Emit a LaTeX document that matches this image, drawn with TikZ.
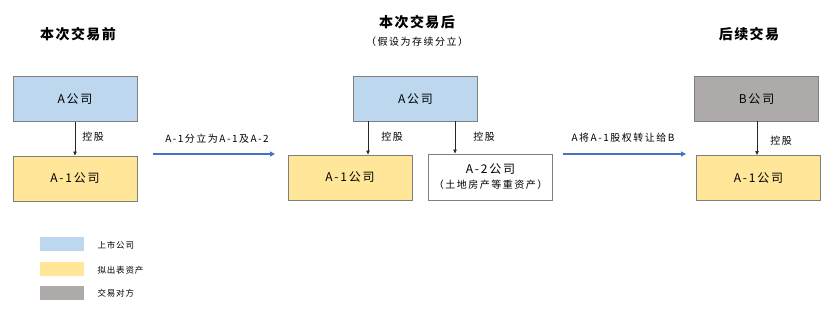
\documentclass[tikz,border=0pt]{standalone}
\usepackage{fontspec}
\setmainfont{Noto Sans CJK SC}
\usetikzlibrary{arrows.meta}
\definecolor{lblue}{HTML}{BDD7EE}
\definecolor{lyellow}{HTML}{FFE699}
\definecolor{lgray}{HTML}{AEAAAA}
\definecolor{bord}{HTML}{7F7F7F}
\definecolor{arrblue}{HTML}{4472C4}
\newcommand{\spc}[1]{\addfontfeature{LetterSpace=#1}}
\begin{document}
\begin{tikzpicture}[x=1pt,y=-1pt,
  box/.style={draw=bord,line width=1pt,minimum width=124pt,minimum height=45pt,inner sep=0pt,font=\fontsize{12}{14}\selectfont\spc{15},align=center},
  ctrl/.style={draw=black!85,line width=0.6pt,-{Triangle[length=4pt,width=3.5pt]}},
  lbl/.style={font=\fontsize{10}{12}\selectfont\spc{15}},
  big/.style={draw=arrblue,line width=1.4pt,-{Triangle[length=5pt,width=5pt]}},
  ttl/.style={font=\fontsize{14}{16}\selectfont\bfseries\spc{10}},
  leg/.style={fill=#1,draw=none,minimum width=44pt,minimum height=14pt,inner sep=0pt},
  legt/.style={font=\fontsize{8.5}{10}\selectfont\spc{10},anchor=west}]
\useasboundingbox (0,0) rectangle (827,311);
% titles
\node[ttl] (t1) at (78,34) {本次交易前};
\node[ttl] (t2) at (417,22) {本次交易后};
\node[font=\fontsize{10}{12}\selectfont\spc{15}] (t2s) at (417,42) {（假设为存续分立）};
\node[ttl] (t3) at (749,34) {后续交易};
% left
\node[box,fill=lblue] (a1) at (75,99) {A公司};
\node[box,fill=lyellow] (a11) at (75,178.5) {A-1公司};
\draw[ctrl] (a1.south) -- (a11.north);
\node[lbl] at (93,137) {控股};
% middle
\node[box,fill=lblue] (a2) at (415.5,99) {A公司};
\node[box,fill=lyellow] (a12) at (350,177.5) {A-1公司};
\node[box,fill=white,minimum height=46pt] (a22) at (490.5,177) {A-2公司\\[1pt]{\fontsize{10}{12}\selectfont\spc{15}（土地房产等重资产）}};
\coordinate (s1) at (368,121);
\coordinate (s2) at (455,121);
\draw[ctrl] (s1) -- (s1 |- a12.north);
\draw[ctrl] (s2) -- (s2 |- a22.north);
\node[lbl] at (392,137) {控股};
\node[lbl] at (484,137) {控股};
% right
\node[box,fill=lgray] (b) at (756.5,99) {B公司};
\node[box,fill=lyellow] (a13) at (758.5,178) {A-1公司};
\coordinate (s3) at (757,121);
\draw[ctrl] (s3) -- (s3 |- a13.north);
\node[lbl] at (781,141) {控股};
% big arrows
\coordinate (p1) at (153,154);
\coordinate (p2) at (275,154);
\draw[big] (p1) -- (p2);
\node[lbl] (l1) at (217,139) {A-1分立为A-1及A-2};
\coordinate (q1) at (563,154);
\coordinate (q2) at (686,154);
\draw[big] (q1) -- (q2);
\node[lbl] (l2) at (623,138) {A将A-1股权转让给B};
% legend
\node[leg=lblue] (g1) at (62,244) {};
\node[leg=lyellow] (g2) at (62,269) {};
\node[leg=lgray] (g3) at (62,293) {};
\node[legt] at (94,245) {上市公司};
\node[legt] at (94,270) {拟出表资产};
\node[legt] at (94,293) {交易对方};
\end{tikzpicture}
\end{document}
